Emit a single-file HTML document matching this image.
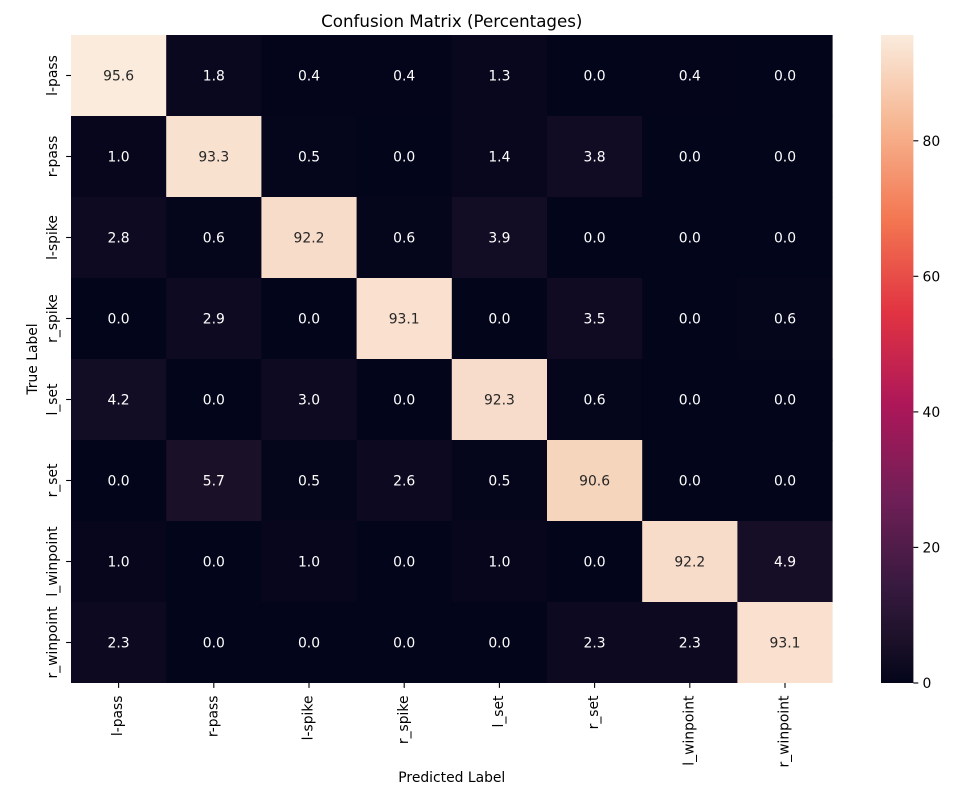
<!DOCTYPE html>
<html>
<head>
<meta charset="utf-8">
<style>
html,body{margin:0;padding:0;background:#fff;}
svg{display:block;}
text{font-family:"DejaVu Sans","Liberation Sans",sans-serif;}
</style>
</head>
<body>
<svg width="977" height="800" viewBox="0 0 977 800" xmlns="http://www.w3.org/2000/svg">
<defs>
<linearGradient id="rocket" x1="0" y1="1" x2="0" y2="0">
<stop offset="0" stop-color="#03051a"/>
<stop offset="0.06" stop-color="#1a1027"/>
<stop offset="0.143" stop-color="#35193e"/>
<stop offset="0.286" stop-color="#701f57"/>
<stop offset="0.429" stop-color="#ad1759"/>
<stop offset="0.571" stop-color="#e13342"/>
<stop offset="0.714" stop-color="#f37651"/>
<stop offset="0.857" stop-color="#f6b48f"/>
<stop offset="1" stop-color="#faebdd"/>
</linearGradient>
</defs>

<!-- Title -->
<text x="451.8" y="27" font-size="16.67" text-anchor="middle" fill="#000">Confusion Matrix (Percentages)</text>

<!-- Heatmap cells -->
<g>
<!-- row 0 -->
<rect x="71" y="35" width="95.7" height="81.5" fill="rgb(250,235,221)"/>
<rect x="166.2" y="35" width="95.7" height="81.5" fill="rgb(10,8,30)"/>
<rect x="261.4" y="35" width="95.7" height="81.5" fill="rgb(4,5,27)"/>
<rect x="356.6" y="35" width="95.7" height="81.5" fill="rgb(4,5,27)"/>
<rect x="451.8" y="35" width="95.7" height="81.5" fill="rgb(8,7,29)"/>
<rect x="547" y="35" width="95.7" height="81.5" fill="rgb(3,5,26)"/>
<rect x="642.2" y="35" width="95.7" height="81.5" fill="rgb(4,5,27)"/>
<rect x="737.4" y="35" width="95.2" height="81.5" fill="rgb(3,5,26)"/>
<!-- row 1 -->
<rect x="71" y="116" width="95.7" height="81.5" fill="rgb(7,6,28)"/>
<rect x="166.2" y="116" width="95.7" height="81.5" fill="rgb(249,225,208)"/>
<rect x="261.4" y="116" width="95.7" height="81.5" fill="rgb(5,5,27)"/>
<rect x="356.6" y="116" width="95.7" height="81.5" fill="rgb(3,5,26)"/>
<rect x="451.8" y="116" width="95.7" height="81.5" fill="rgb(8,7,29)"/>
<rect x="547" y="116" width="95.7" height="81.5" fill="rgb(17,11,36)"/>
<rect x="642.2" y="116" width="95.7" height="81.5" fill="rgb(3,5,26)"/>
<rect x="737.4" y="116" width="95.2" height="81.5" fill="rgb(3,5,26)"/>
<!-- row 2 -->
<rect x="71" y="197" width="95.7" height="81.5" fill="rgb(14,10,33)"/>
<rect x="166.2" y="197" width="95.7" height="81.5" fill="rgb(5,6,27)"/>
<rect x="261.4" y="197" width="95.7" height="81.5" fill="rgb(248,220,202)"/>
<rect x="356.6" y="197" width="95.7" height="81.5" fill="rgb(5,6,27)"/>
<rect x="451.8" y="197" width="95.7" height="81.5" fill="rgb(18,12,36)"/>
<rect x="547" y="197" width="95.7" height="81.5" fill="rgb(3,5,26)"/>
<rect x="642.2" y="197" width="95.7" height="81.5" fill="rgb(3,5,26)"/>
<rect x="737.4" y="197" width="95.2" height="81.5" fill="rgb(3,5,26)"/>
<!-- row 3 -->
<rect x="71" y="278" width="95.7" height="81.5" fill="rgb(3,5,26)"/>
<rect x="166.2" y="278" width="95.7" height="81.5" fill="rgb(14,10,33)"/>
<rect x="261.4" y="278" width="95.7" height="81.5" fill="rgb(3,5,26)"/>
<rect x="356.6" y="278" width="95.7" height="81.5" fill="rgb(249,224,207)"/>
<rect x="451.8" y="278" width="95.7" height="81.5" fill="rgb(3,5,26)"/>
<rect x="547" y="278" width="95.7" height="81.5" fill="rgb(16,11,35)"/>
<rect x="642.2" y="278" width="95.7" height="81.5" fill="rgb(3,5,26)"/>
<rect x="737.4" y="278" width="95.2" height="81.5" fill="rgb(5,6,27)"/>
<!-- row 4 -->
<rect x="71" y="359" width="95.7" height="81.5" fill="rgb(19,12,37)"/>
<rect x="166.2" y="359" width="95.7" height="81.5" fill="rgb(3,5,26)"/>
<rect x="261.4" y="359" width="95.7" height="81.5" fill="rgb(14,10,34)"/>
<rect x="356.6" y="359" width="95.7" height="81.5" fill="rgb(3,5,26)"/>
<rect x="451.8" y="359" width="95.7" height="81.5" fill="rgb(248,220,203)"/>
<rect x="547" y="359" width="95.7" height="81.5" fill="rgb(5,6,27)"/>
<rect x="642.2" y="359" width="95.7" height="81.5" fill="rgb(3,5,26)"/>
<rect x="737.4" y="359" width="95.2" height="81.5" fill="rgb(3,5,26)"/>
<!-- row 5 -->
<rect x="71" y="440" width="95.7" height="81.5" fill="rgb(3,5,26)"/>
<rect x="166.2" y="440" width="95.7" height="81.5" fill="rgb(26,16,39)"/>
<rect x="261.4" y="440" width="95.7" height="81.5" fill="rgb(5,5,27)"/>
<rect x="356.6" y="440" width="95.7" height="81.5" fill="rgb(13,9,32)"/>
<rect x="451.8" y="440" width="95.7" height="81.5" fill="rgb(5,5,27)"/>
<rect x="547" y="440" width="95.7" height="81.5" fill="rgb(246,213,189)"/>
<rect x="642.2" y="440" width="95.7" height="81.5" fill="rgb(3,5,26)"/>
<rect x="737.4" y="440" width="95.2" height="81.5" fill="rgb(3,5,26)"/>
<!-- row 6 -->
<rect x="71" y="521" width="95.7" height="81.5" fill="rgb(7,6,28)"/>
<rect x="166.2" y="521" width="95.7" height="81.5" fill="rgb(3,5,26)"/>
<rect x="261.4" y="521" width="95.7" height="81.5" fill="rgb(7,6,28)"/>
<rect x="356.6" y="521" width="95.7" height="81.5" fill="rgb(3,5,26)"/>
<rect x="451.8" y="521" width="95.7" height="81.5" fill="rgb(7,6,28)"/>
<rect x="547" y="521" width="95.7" height="81.5" fill="rgb(3,5,26)"/>
<rect x="642.2" y="521" width="95.7" height="81.5" fill="rgb(248,220,202)"/>
<rect x="737.4" y="521" width="95.2" height="81.5" fill="rgb(22,14,38)"/>
<!-- row 7 -->
<rect x="71" y="602" width="95.7" height="81" fill="rgb(12,9,32)"/>
<rect x="166.2" y="602" width="95.7" height="81" fill="rgb(3,5,26)"/>
<rect x="261.4" y="602" width="95.7" height="81" fill="rgb(3,5,26)"/>
<rect x="356.6" y="602" width="95.7" height="81" fill="rgb(3,5,26)"/>
<rect x="451.8" y="602" width="95.7" height="81" fill="rgb(3,5,26)"/>
<rect x="547" y="602" width="95.7" height="81" fill="rgb(12,9,32)"/>
<rect x="642.2" y="602" width="95.7" height="81" fill="rgb(12,9,32)"/>
<rect x="737.4" y="602" width="95.2" height="81" fill="rgb(249,224,207)"/>
</g>

<!-- Annotations -->
<g font-size="13.89" text-anchor="middle">
<g fill="#262626">
<text x="118.6" y="80.5">95.6</text>
<text x="213.8" y="161.5">93.3</text>
<text x="309" y="242.5">92.2</text>
<text x="404.2" y="323.5">93.1</text>
<text x="499.4" y="404.5">92.3</text>
<text x="594.6" y="485.5">90.6</text>
<text x="689.8" y="566.5">92.2</text>
<text x="785" y="647.5">93.1</text>
</g>
<g fill="#ffffff">
<!-- row 0 -->
<text x="213.8" y="80.5">1.8</text>
<text x="309" y="80.5">0.4</text>
<text x="404.2" y="80.5">0.4</text>
<text x="499.4" y="80.5">1.3</text>
<text x="594.6" y="80.5">0.0</text>
<text x="689.8" y="80.5">0.4</text>
<text x="785" y="80.5">0.0</text>
<!-- row 1 -->
<text x="118.6" y="161.5">1.0</text>
<text x="309" y="161.5">0.5</text>
<text x="404.2" y="161.5">0.0</text>
<text x="499.4" y="161.5">1.4</text>
<text x="594.6" y="161.5">3.8</text>
<text x="689.8" y="161.5">0.0</text>
<text x="785" y="161.5">0.0</text>
<!-- row 2 -->
<text x="118.6" y="242.5">2.8</text>
<text x="213.8" y="242.5">0.6</text>
<text x="404.2" y="242.5">0.6</text>
<text x="499.4" y="242.5">3.9</text>
<text x="594.6" y="242.5">0.0</text>
<text x="689.8" y="242.5">0.0</text>
<text x="785" y="242.5">0.0</text>
<!-- row 3 -->
<text x="118.6" y="323.5">0.0</text>
<text x="213.8" y="323.5">2.9</text>
<text x="309" y="323.5">0.0</text>
<text x="499.4" y="323.5">0.0</text>
<text x="594.6" y="323.5">3.5</text>
<text x="689.8" y="323.5">0.0</text>
<text x="785" y="323.5">0.6</text>
<!-- row 4 -->
<text x="118.6" y="404.5">4.2</text>
<text x="213.8" y="404.5">0.0</text>
<text x="309" y="404.5">3.0</text>
<text x="404.2" y="404.5">0.0</text>
<text x="594.6" y="404.5">0.6</text>
<text x="689.8" y="404.5">0.0</text>
<text x="785" y="404.5">0.0</text>
<!-- row 5 -->
<text x="118.6" y="485.5">0.0</text>
<text x="213.8" y="485.5">5.7</text>
<text x="309" y="485.5">0.5</text>
<text x="404.2" y="485.5">2.6</text>
<text x="499.4" y="485.5">0.5</text>
<text x="689.8" y="485.5">0.0</text>
<text x="785" y="485.5">0.0</text>
<!-- row 6 -->
<text x="118.6" y="566.5">1.0</text>
<text x="213.8" y="566.5">0.0</text>
<text x="309" y="566.5">1.0</text>
<text x="404.2" y="566.5">0.0</text>
<text x="499.4" y="566.5">1.0</text>
<text x="594.6" y="566.5">0.0</text>
<text x="785" y="566.5">4.9</text>
<!-- row 7 -->
<text x="118.6" y="647.5">2.3</text>
<text x="213.8" y="647.5">0.0</text>
<text x="309" y="647.5">0.0</text>
<text x="404.2" y="647.5">0.0</text>
<text x="499.4" y="647.5">0.0</text>
<text x="594.6" y="647.5">2.3</text>
<text x="689.8" y="647.5">2.3</text>
</g>
</g>

<!-- Y ticks -->
<g stroke="#000" stroke-width="1.1">
<line x1="66.1" y1="75.5" x2="71" y2="75.5"/>
<line x1="66.1" y1="156.5" x2="71" y2="156.5"/>
<line x1="66.1" y1="237.5" x2="71" y2="237.5"/>
<line x1="66.1" y1="318.5" x2="71" y2="318.5"/>
<line x1="66.1" y1="399.5" x2="71" y2="399.5"/>
<line x1="66.1" y1="480.5" x2="71" y2="480.5"/>
<line x1="66.1" y1="561.5" x2="71" y2="561.5"/>
<line x1="66.1" y1="642.5" x2="71" y2="642.5"/>
</g>
<!-- X ticks -->
<g stroke="#000" stroke-width="1.1">
<line x1="118.6" y1="683" x2="118.6" y2="687.9"/>
<line x1="213.8" y1="683" x2="213.8" y2="687.9"/>
<line x1="309" y1="683" x2="309" y2="687.9"/>
<line x1="404.2" y1="683" x2="404.2" y2="687.9"/>
<line x1="499.4" y1="683" x2="499.4" y2="687.9"/>
<line x1="594.6" y1="683" x2="594.6" y2="687.9"/>
<line x1="689.8" y1="683" x2="689.8" y2="687.9"/>
<line x1="785" y1="683" x2="785" y2="687.9"/>
</g>

<!-- Y tick labels -->
<g font-size="13.89" fill="#000" text-anchor="middle">
<text transform="translate(57,75.5) rotate(-90)">l-pass</text>
<text transform="translate(57,156.5) rotate(-90)">r-pass</text>
<text transform="translate(57,237.5) rotate(-90)">l-spike</text>
<text transform="translate(57,318.5) rotate(-90)">r_spike</text>
<text transform="translate(57,399.5) rotate(-90)">l_set</text>
<text transform="translate(57,480.5) rotate(-90)">r_set</text>
<text transform="translate(57,561.5) rotate(-90)">l_winpoint</text>
<text transform="translate(57,642.5) rotate(-90)">r_winpoint</text>
</g>

<!-- X tick labels -->
<g font-size="13.89" fill="#000" text-anchor="end">
<text transform="translate(122.2,695.5) rotate(-90)">l-pass</text>
<text transform="translate(217.4,695.5) rotate(-90)">r-pass</text>
<text transform="translate(312.6,695.5) rotate(-90)">l-spike</text>
<text transform="translate(407.8,695.5) rotate(-90)">r_spike</text>
<text transform="translate(503,695.5) rotate(-90)">l_set</text>
<text transform="translate(598.2,695.5) rotate(-90)">r_set</text>
<text transform="translate(693.4,695.5) rotate(-90)">l_winpoint</text>
<text transform="translate(788.6,695.5) rotate(-90)">r_winpoint</text>
</g>

<!-- Axis labels -->
<text x="451.8" y="782" font-size="13.89" text-anchor="middle" fill="#000">Predicted Label</text>
<text transform="translate(37.2,359) rotate(-90)" font-size="13.89" text-anchor="middle" fill="#000">True Label</text>

<!-- Colorbar -->
<rect x="881" y="35" width="32.4" height="648" fill="url(#rocket)"/>
<g stroke="#000" stroke-width="1.1">
<line x1="913.4" y1="683" x2="918.3" y2="683"/>
<line x1="913.4" y1="547.4" x2="918.3" y2="547.4"/>
<line x1="913.4" y1="411.9" x2="918.3" y2="411.9"/>
<line x1="913.4" y1="276.3" x2="918.3" y2="276.3"/>
<line x1="913.4" y1="140.8" x2="918.3" y2="140.8"/>
</g>
<g font-size="13.89" fill="#000">
<text x="922.5" y="688">0</text>
<text x="922.5" y="552.4">20</text>
<text x="922.5" y="416.9">40</text>
<text x="922.5" y="281.3">60</text>
<text x="922.5" y="145.8">80</text>
</g>
</svg>
</body>
</html>
